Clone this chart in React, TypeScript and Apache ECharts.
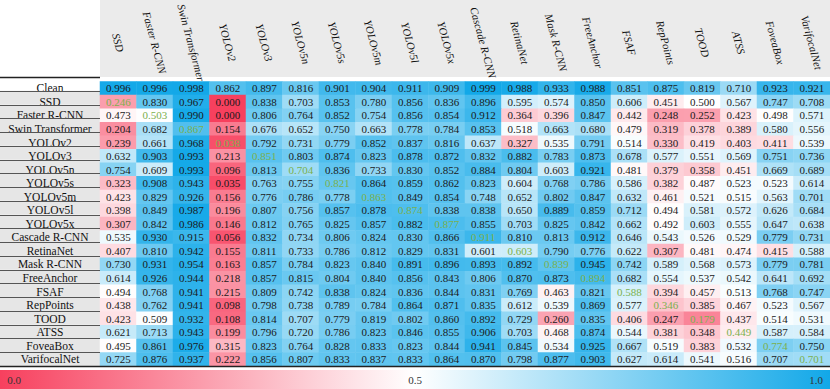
import React, { useEffect, useRef } from "react";
import * as echarts from "echarts";

const models = [
  "SSD", "Faster R-CNN", "Swin Transformer", "YOLOv2", "YOLOv3", "YOLOv5n", "YOLOv5s",
  "YOLOv5m", "YOLOv5l", "YOLOv5x", "Cascade R-CNN", "RetinaNet", "Mask R-CNN",
  "FreeAnchor", "FSAF", "RepPoints", "TOOD", "ATSS", "FoveaBox", "VarifocalNet",
];
const rowNames = ["Clean", ...models];

const clean = [0.996, 0.996, 0.998, 0.862, 0.897, 0.816, 0.901, 0.904, 0.911, 0.909, 0.999, 0.988, 0.933, 0.988, 0.851, 0.875, 0.819, 0.710, 0.923, 0.921];
const ssd = [0.246, 0.830, 0.967, 0.000, 0.838, 0.703, 0.853, 0.780, 0.856, 0.836, 0.896, 0.595, 0.574, 0.850, 0.606, 0.451, 0.500, 0.567, 0.747, 0.708];
const fasterRcnn = [0.473, 0.503, 0.990, 0.000, 0.806, 0.764, 0.852, 0.754, 0.856, 0.854, 0.912, 0.364, 0.396, 0.847, 0.442, 0.248, 0.252, 0.423, 0.498, 0.571];
const swin = [0.204, 0.682, 0.867, 0.154, 0.676, 0.652, 0.750, 0.663, 0.778, 0.784, 0.853, 0.518, 0.663, 0.680, 0.479, 0.319, 0.378, 0.389, 0.580, 0.556];
const yolov2 = [0.239, 0.661, 0.968, 0.038, 0.792, 0.731, 0.779, 0.852, 0.837, 0.816, 0.637, 0.327, 0.535, 0.791, 0.514, 0.330, 0.419, 0.403, 0.411, 0.539];
const yolov3 = [0.632, 0.903, 0.993, 0.213, 0.851, 0.803, 0.874, 0.823, 0.878, 0.872, 0.832, 0.882, 0.783, 0.873, 0.678, 0.577, 0.551, 0.569, 0.751, 0.736];
const yolov5n = [0.754, 0.609, 0.993, 0.096, 0.813, 0.704, 0.836, 0.733, 0.830, 0.852, 0.884, 0.804, 0.603, 0.921, 0.481, 0.379, 0.358, 0.451, 0.669, 0.689];
const yolov5s = [0.323, 0.908, 0.943, 0.035, 0.763, 0.755, 0.821, 0.864, 0.859, 0.862, 0.823, 0.604, 0.768, 0.786, 0.586, 0.382, 0.487, 0.523, 0.523, 0.614];
const yolov5m = [0.423, 0.829, 0.926, 0.156, 0.776, 0.786, 0.778, 0.863, 0.849, 0.854, 0.748, 0.652, 0.802, 0.847, 0.632, 0.461, 0.521, 0.515, 0.563, 0.701];
const yolov5l = [0.398, 0.849, 0.987, 0.196, 0.807, 0.756, 0.857, 0.878, 0.874, 0.838, 0.838, 0.650, 0.889, 0.859, 0.712, 0.494, 0.581, 0.572, 0.626, 0.684];
const yolov5x = [0.307, 0.842, 0.986, 0.146, 0.812, 0.765, 0.825, 0.857, 0.882, 0.877, 0.855, 0.703, 0.825, 0.842, 0.662, 0.492, 0.603, 0.555, 0.647, 0.638];
const cascadeRcnn = [0.535, 0.930, 0.915, 0.056, 0.832, 0.734, 0.806, 0.824, 0.830, 0.866, 0.911, 0.810, 0.813, 0.912, 0.646, 0.543, 0.526, 0.529, 0.779, 0.731];
const retinaNet = [0.407, 0.810, 0.942, 0.155, 0.811, 0.733, 0.786, 0.812, 0.829, 0.831, 0.601, 0.603, 0.790, 0.776, 0.622, 0.307, 0.481, 0.474, 0.415, 0.588];
const maskRcnn = [0.730, 0.931, 0.954, 0.163, 0.857, 0.784, 0.823, 0.840, 0.891, 0.896, 0.893, 0.892, 0.839, 0.945, 0.742, 0.589, 0.568, 0.573, 0.779, 0.781];
const freeAnchor = [0.614, 0.926, 0.944, 0.218, 0.857, 0.815, 0.804, 0.840, 0.856, 0.843, 0.806, 0.870, 0.873, 0.894, 0.682, 0.554, 0.537, 0.542, 0.641, 0.692];
const fsaf = [0.494, 0.768, 0.941, 0.215, 0.809, 0.742, 0.838, 0.824, 0.836, 0.844, 0.831, 0.769, 0.463, 0.821, 0.588, 0.394, 0.457, 0.513, 0.768, 0.747];
const repPoints = [0.438, 0.762, 0.941, 0.098, 0.798, 0.738, 0.789, 0.784, 0.864, 0.871, 0.835, 0.612, 0.539, 0.869, 0.577, 0.346, 0.385, 0.467, 0.523, 0.567];
const tood = [0.423, 0.509, 0.932, 0.108, 0.814, 0.707, 0.779, 0.819, 0.802, 0.860, 0.892, 0.729, 0.260, 0.835, 0.406, 0.247, 0.179, 0.437, 0.514, 0.531];
const atss = [0.621, 0.713, 0.943, 0.199, 0.796, 0.720, 0.786, 0.823, 0.846, 0.855, 0.906, 0.703, 0.468, 0.874, 0.544, 0.381, 0.348, 0.449, 0.587, 0.584];
const foveaBox = [0.495, 0.861, 0.976, 0.315, 0.823, 0.764, 0.828, 0.833, 0.823, 0.844, 0.941, 0.845, 0.534, 0.925, 0.667, 0.519, 0.383, 0.532, 0.774, 0.750];
const varifocalNet = [0.725, 0.876, 0.937, 0.222, 0.856, 0.807, 0.833, 0.837, 0.833, 0.864, 0.870, 0.798, 0.877, 0.903, 0.627, 0.614, 0.541, 0.516, 0.707, 0.701];

const matrix = [
  clean, ssd, fasterRcnn, swin, yolov2, yolov3, yolov5n, yolov5s, yolov5m, yolov5l, yolov5x,
  cascadeRcnn, retinaNet, maskRcnn, freeAnchor, fsaf, repPoints, tood, atss, foveaBox, varifocalNet,
];

const colorbarTicks = [0.0, 0.5, 1.0];

const W = 830;
const H = 389;
const GRID_LEFT = 100;
const GRID_TOP = 77;
const GRID_H = 289;
const CB_TOP = 370;
const CB_PAD = 12;
const RED = "#f7405e";
const MID = "#ffffff";
const BLUE = "#12a8e8";
const FONT = "'Liberation Serif', 'DejaVu Serif', serif";

export default function App() {
  const ref = useRef<HTMLDivElement>(null);
  useEffect(() => {
    if (!ref.current) return;
    const chart = echarts.init(ref.current, undefined, { renderer: "svg" });
    const data: any[] = [];
    matrix.forEach((row, r) => {
      row.forEach((v, c) => {
        const diag = r >= 1 && c === r - 1;
        data.push({
          value: [c, r, v],
          label: { color: diag ? "#7bb04e" : "#1a1a1a" },
        });
      });
    });
    const rowH = GRID_H / rowNames.length;
    const graphics: any[] = [];
    // header background
    graphics.push({
      type: "rect", z: 1, silent: true,
      shape: { x: GRID_LEFT, y: 0, width: W - GRID_LEFT, height: GRID_TOP },
      style: { fill: "#ebebeb" },
    });
    // row label backgrounds
    rowNames.forEach((_, r) => {
      graphics.push({
        type: "rect", z: 1, silent: true,
        shape: { x: 0, y: GRID_TOP + r * rowH, width: GRID_LEFT, height: rowH },
        style: { fill: r === 0 ? "#ffffff" : "#e6e6e6" },
      });
    });
    for (let k = 0; k <= rowNames.length; k++) {
      const y = Math.round(GRID_TOP + k * rowH) + 0.5;
      const last = k === rowNames.length;
      graphics.push({
        type: "line", z: 10, silent: true,
        shape: { x1: 0, y1: y, x2: last ? W : GRID_LEFT, y2: y },
        style: { stroke: k === 0 || last ? "#222" : "#555", lineWidth: k === 0 || last ? 1.5 : 1 },
      });
    }
    // colorbar
    graphics.push({
      type: "rect", z: 1, silent: true,
      shape: { x: 0, y: CB_TOP, width: W, height: H - CB_TOP },
      style: {
        fill: new echarts.graphic.LinearGradient(0, 0, 1, 0, [
          { offset: 0, color: RED },
          { offset: 0.5, color: MID },
          { offset: 1, color: BLUE },
        ]),
      },
    });
    colorbarTicks.forEach((t) => {
      graphics.push({
        type: "text", z: 5, silent: true,
        x: CB_PAD + t * (W - 2 * CB_PAD) + (t === 0 ? 2 : t === 1 ? -2 : 0),
        y: CB_TOP + (H - CB_TOP) / 2,
        style: {
          text: t.toFixed(1), fill: "#333", font: `11px ${FONT}`,
          textAlign: "center", textVerticalAlign: "middle",
        },
      });
    });

    chart.setOption({
      animation: false,
      grid: { left: GRID_LEFT, top: GRID_TOP, width: W - GRID_LEFT, height: GRID_H },
      xAxis: {
        type: "category", position: "top", data: models, z: 6,
        axisLine: { show: false }, axisTick: { show: false }, splitLine: { show: false },
        axisLabel: {
          interval: 0, rotate: 75, align: "center", verticalAlign: "middle", margin: 39,
          fontFamily: FONT, fontStyle: "italic", fontSize: 11, color: "#111",
        },
      },
      yAxis: {
        type: "category", inverse: true, data: rowNames, z: 6,
        axisLine: { show: false }, axisTick: { show: false }, splitLine: { show: false },
        axisLabel: {
          interval: 0, align: "center", margin: GRID_LEFT / 2,
          fontFamily: FONT, fontSize: 11.5, color: "#111",
        },
      },
      visualMap: {
        show: false, min: 0, max: 1, dimension: 2,
        inRange: { color: [RED, MID, BLUE] },
      },
      series: [{
        type: "heatmap", data, z: 2,
        label: {
          show: true, fontFamily: FONT, fontSize: 11,
          formatter: (p: any) => p.value[2].toFixed(3),
        },
        itemStyle: { borderWidth: 0 },
        emphasis: { disabled: true },
      }],
      graphic: graphics,
    });
    return () => chart.dispose();
  }, []);
  return (
    <div
      ref={ref}
      style={{ position: "fixed", left: 0, top: 0, width: W, height: H, background: "#fff" }}
    />
  );
}
